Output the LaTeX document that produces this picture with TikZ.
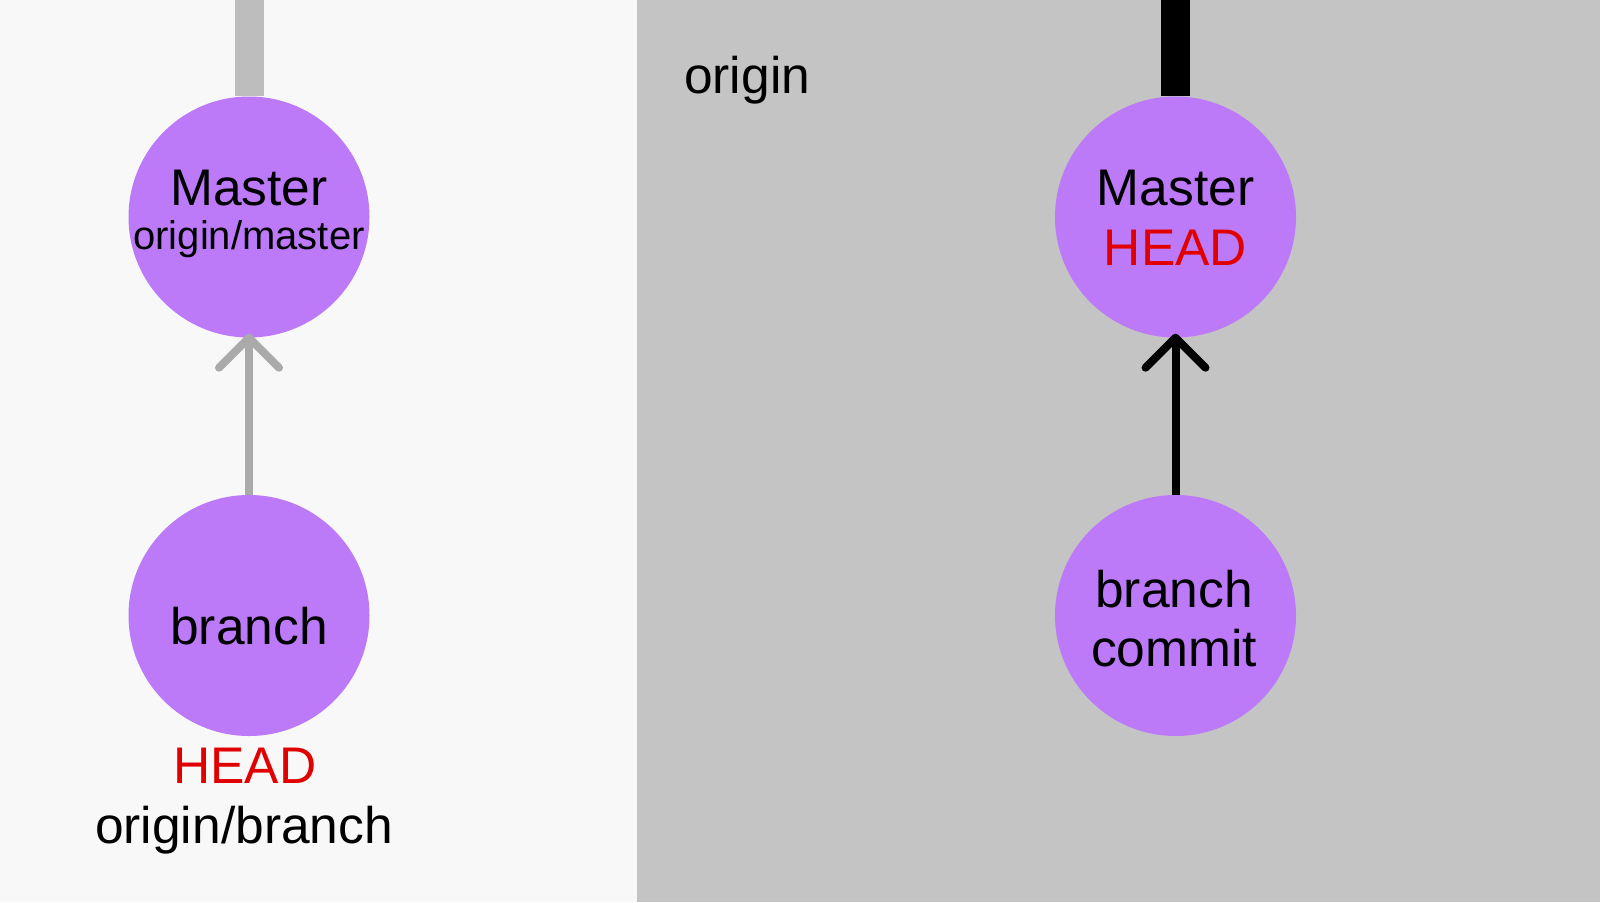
\documentclass[tikz,border=0pt]{standalone}
\usepackage{fontspec}
\setmainfont{Liberation Sans}
\definecolor{leftbg}{HTML}{F8F8F8}
\definecolor{rightbg}{HTML}{C4C4C4}
\definecolor{commitfill}{HTML}{BC7AF9}
\definecolor{headred}{HTML}{E00000}
\definecolor{bargray}{HTML}{BDBDBD}
\definecolor{arrowgray}{HTML}{AAAAAA}
\tikzset{
  commit/.style={circle, fill=commitfill, draw=none, minimum size=241pt, inner sep=0pt},
  big/.style={inner sep=0pt, anchor=base, font=\fontsize{51.5}{60}\selectfont},
  small/.style={inner sep=0pt, anchor=base, font=\fontsize{40}{48}\selectfont},
  edge/.style={line width=8pt, line cap=round, line join=round},
  bar/.style={line width=29pt, line cap=butt}
}
\begin{document}
\begin{tikzpicture}[x=1pt,y=-1pt]
\useasboundingbox (0,0) rectangle (1600,902);
\fill[leftbg] (0,0) rectangle (637,902);
\fill[rightbg] (637,0) rectangle (1600,902);

% left side
\node[commit] (m1) at (249,217) {};
\node[commit] (b1) at (249,615.5) {};
\coordinate (t1) at (249,0);
\draw[bar, bargray] (m1.north) -- (t1);
\draw[edge, arrowgray, line cap=butt] (b1.north) -- (m1.south);
\draw[edge, arrowgray] (m1.south) ++(-30,30) -- (m1.south) -- ++(30,30);
\node[big] (m1a) at (249,205) {Master};
\node[small] (m1b) at (249,249) {origin/master};
\node[big] (b1a) at (249,644) {branch};
\node[big, text=headred] (b1h) at (245,783) {HEAD};
\node[big] (b1o) at (244,843) {origin/branch};

% right side
\node[big, anchor=base west] (orig) at (684,93) {origin};
\node[commit] (m2) at (1175.5,217) {};
\node[commit] (b2) at (1175.5,615.5) {};
\coordinate (t2) at (1175.5,0);
\draw[bar, black] (m2.north) -- (t2);
\draw[edge, black, line cap=butt] (b2.north) -- (m2.south);
\draw[edge, black] (m2.south) ++(-30,30) -- (m2.south) -- ++(30,30);
\node[big] (m2a) at (1175.5,205) {Master};
\node[big, text=headred] (m2h) at (1175.5,265) {HEAD};
\node[big] (b2a) at (1174,607) {branch};
\node[big] (b2b) at (1174,666) {commit};
\end{tikzpicture}
\end{document}
